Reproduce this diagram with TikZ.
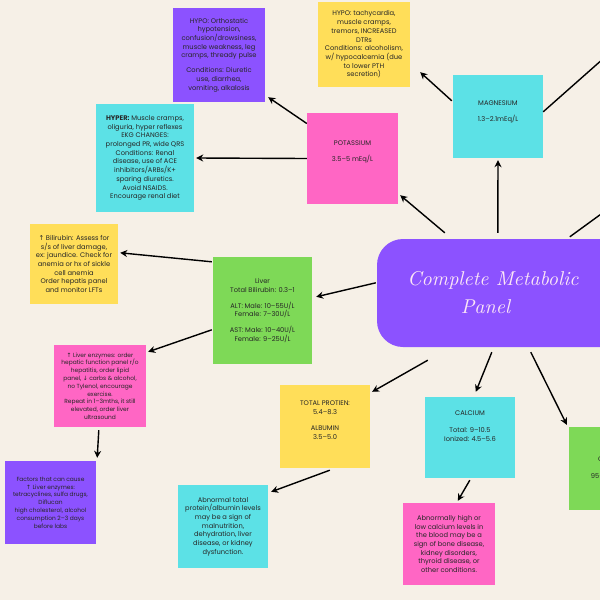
\documentclass[tikz,border=0pt]{standalone}
\usepackage{fontspec}
\newfontfamily\notef{Poppins}
\newfontfamily\titlef{lmroman10-italic.otf}
\newfontfamily\symf{DejaVu Sans}
\usetikzlibrary{arrows.meta,calc}
\definecolor{bg}{HTML}{F6F0E7}
\definecolor{cpurple}{HTML}{8C52FF}
\definecolor{cyellow}{HTML}{FFDE59}
\definecolor{ccyan}{HTML}{5CE1E6}
\definecolor{cpink}{HTML}{FF66C4}
\definecolor{cgreen}{HTML}{7ED957}
\definecolor{ctitle}{HTML}{FCE6F6}
\newcommand{\up}{{\symf\char"2191}}
\newcommand{\dn}{{\symf\char"2193}}
\tikzset{
  note/.style={draw=none, align=center, inner sep=0pt, text=black!85,
    font=\notef\fontsize{6.7}{8.7}\selectfont},
  small/.style={font=\notef\fontsize{5.9}{7.8}\selectfont},
  arr/.style={draw=black, line width=1.4pt, -{Stealth[length=7pt,width=7pt]}},
  plain/.style={draw=black, line width=1.4pt}
}
\begin{document}
\begin{tikzpicture}[x=1pt,y=-1pt]
\fill[bg] (0,0) rectangle (600,600);
\useasboundingbox (0,0) rectangle (600,600);

\node[note, fill=cpurple, minimum width=92pt, minimum height=94pt] (khypo) at (219,55)
 {HYPO: Orthostatic\\ hypotension,\\ confusion/drowsiness,\\ muscle weakness, leg\\ cramps, thready pulse\\[6pt] Conditions: Diuretic\\ use, diarrhea,\\ vomiting, alkalosis};
\node[note, fill=cyellow, minimum width=92pt, minimum height=85pt] (mghypo) at (364,44.5)
 {HYPO: tachycardia,\\ muscle cramps,\\ tremors, INCREASED\\ DTRs\\ Conditions: alcoholism,\\ w/ hypocalcemia (due\\ to lower PTH\\ secretion)};
\node[note, fill=ccyan, minimum width=98pt, minimum height=108pt] (hyper) at (145,158)
 {\textbf{HYPER:} Muscle cramps,\\ oliguria, hyper reflexes\\ EKG CHANGES:\\ prolonged PR, wide QRS\\ Conditions: Renal\\ disease, use of ACE\\ inhibitors/ARBs/K+\\ sparing diuretics.\\ Avoid NSAIDS.\\ Encourage renal diet};
\node[note, fill=cpink, minimum width=91pt, minimum height=91pt] (pot) at (352.5,158.5)
 {POTASSIUM\\[8pt] 3.5–5 mEq/L\\[6pt]\mbox{}};
\node[note, fill=ccyan, minimum width=90pt, minimum height=83pt] (mag) at (498,116.5)
 {MAGNESIUM\\[8pt] 1.3–2.1mEq/L\\[2pt]\mbox{}};
\node[note, fill=cyellow, minimum width=88pt, minimum height=80pt] (bili) at (74,264)
 {\up\ Bilirubin: Assess for\\ s/s of liver damage,\\ ex: jaundice. Check for\\ anemia or hx of sickle\\ cell anemia\\ Order hepatis panel\\ and monitor LFTs};
\node[note, fill=cgreen, minimum width=99pt, minimum height=107pt] (liver) at (262.5,310.5)
 {Liver\\ Total Bilirubin: 0.3–1\\[7pt] ALT: Male: 10–55U/L\\ Female: 7–30U/L\\[7pt] AST: Male: 10–40U/L\\ Female: 9–25U/L};
\node[note, fill=cpurple, rounded corners=26pt, minimum width=270pt, minimum height=108pt,
  font=\titlef\fontsize{20}{28}\selectfont, text=ctitle] (cmp) at (512,293)
 {\hspace*{-38pt}Complete Metabolic\\ \hspace*{-53pt}Panel};
\node[note, small, fill=cpink, minimum width=92pt, minimum height=82pt] (enz) at (100,386)
 {\up\ Liver enzymes: order\\ hepatic function panel r/o\\ hepatitis, order lipid\\ panel, \dn\ carbs \& alcohol,\\ no Tylenol, encourage\\ exercise.\\ Repeat in 1–3mths, it still\\ elevated, order liver\\ ultrasound};
\node[note, small, fill=cpurple, minimum width=91pt, minimum height=83pt] (factors) at (50.5,502.5)
 {Factors that can cause\\ \up\ Liver enzymes:\\ tetracyclines, sulfa drugs,\\ Diflucan\\ high cholesterol, alcohol\\ consumption 2–3 days\\ before labs};
\node[note, fill=cyellow, minimum width=90pt, minimum height=83pt] (prot) at (325,426.5)
 {TOTAL PROTIEN:\\ 5.4–8.3\\[7pt] ALBUMIN\\ 3.5–5.0\\[4pt]\mbox{}};
\node[note, fill=ccyan, minimum width=90pt, minimum height=83pt] (abn) at (223,526.5)
 {Abnormal total\\ protein/albumin levels\\ may be a sign of\\ malnutrition,\\ dehydration, liver\\ disease, or kidney\\ dysfunction.};
\node[note, fill=ccyan, minimum width=90pt, minimum height=81pt] (cal) at (470,437.5)
 {CALCIUM\\[8pt] Total: 9–10.5\\ Ionized: 4.5–5.6\\[14pt]\mbox{}};
\node[note, fill=cpink, minimum width=92pt, minimum height=82pt] (calabn) at (449,544)
 {Abnormally high or\\ low calcium levels in\\ the blood may be a\\ sign of bone disease,\\ kidney disorders,\\ thyroid disease, or\\ other conditions.};
\node[note, fill=cgreen, minimum width=90pt, minimum height=83pt] (chl) at (614,468.5)
 {CHLORIDE\\[8pt] 95–105 mEq/L};

\coordinate (mgout) at (630,35);
\coordinate (cmpout) at (630,193);

\draw[arr] ([yshift=35pt]pot.west) -- ($(khypo.south east)+(3,-5)$);
\draw[arr] (pot.west) -- ($(hyper.east)+(2,0)$);
\draw[arr] ($(cmp.north west)+(68,-6)$) -- ($(pot.south east)+(2,-9)$);
\draw[arr] ($(cmp.north west)+(121,-6)$) -- ($(mag.south)+(0,2)$);
\draw[arr] ($(mag.north west)+(-1,26)$) -- ($(mghypo.south east)+(10,-15)$);
\draw[plain] ($(mag.north east)+(0,37)$) -- (mgout);
\draw[plain] ($(cmp.north west)+(193,-2)$) -- (cmpout);
\draw[arr] ($(cmp.north west)+(-1,44)$) -- ($(liver.north east)+(4,40)$);
\draw[arr] ($(liver.north west)+(-1,5)$) -- ($(bili.north east)+(2,29)$);
\draw[arr] ($(liver.north west)+(-1,73)$) -- ($(enz.north east)+(2,7)$);
\draw[arr] ($(enz.south west)+(45,3)$) -- ($(factors.north east)+(1,-3)$);
\draw[arr] ($(cmp.south west)+(51,13)$) -- ($(prot.north east)+(2,7)$);
\draw[arr] ($(cmp.south west)+(115,5)$) -- ($(cal.north west)+(51,-5)$);
\draw[arr] ($(cmp.south west)+(154,5)$) -- ($(chl.north west)+(-2,-2)$);
\draw[arr] ($(prot.south west)+(50,2)$) -- ($(abn.north east)+(3,7)$);
\draw[arr] ($(cal.south west)+(45,2)$) -- ($(calabn.north west)+(55,-2)$);
\end{tikzpicture}
\end{document}
